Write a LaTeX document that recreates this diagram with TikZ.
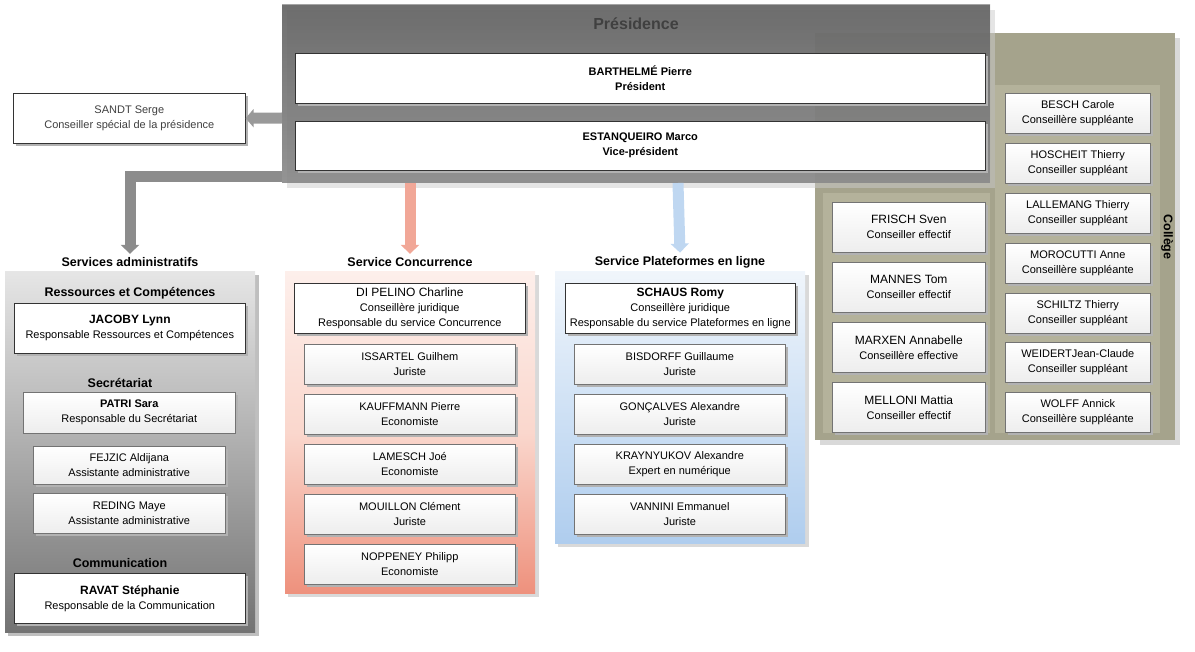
\documentclass[tikz,border=0pt]{standalone}
\usepackage{fontspec}
\setmainfont{Liberation Sans}
\usetikzlibrary{arrows.meta}
\definecolor{salmon}{RGB}{238,145,125}
\definecolor{salmonl}{RGB}{250,215,205}
\definecolor{sky}{RGB}{175,205,238}
\definecolor{skyl}{RGB}{225,236,248}
\definecolor{olivebg}{RGB}{165,163,140}
\definecolor{olivein}{RGB}{180,178,155}
\begin{document}
\begin{tikzpicture}[x=1pt,y=-1pt,
 box/.style={draw=black!80,line width=0.6pt,fill=white,align=center,font=\fontsize{11}{15}\selectfont,inner sep=0pt},
 sbox/.style={box,draw=black!55,top color=white,bottom color=black!7},
 head/.style={font=\bfseries\fontsize{12.5}{14}\selectfont},
 conn/.style={line width=11pt,-{Triangle[width=18pt,length=9pt]}}]
\useasboundingbox (0,0) rectangle (1195,652);
% collège container
\fill[black!15] (820,38) rectangle (1180,445);
\fill[olivebg] (815,33) rectangle (1175,440);
\fill[olivein] (995,85) rectangle (1160,433);
\fill[olivein] (823,193) rectangle (990,433);
% présidence container
\fill[black!20,opacity=0.5] (287,10) rectangle (995,188);
\fill[top color=black!50,bottom color=black!30,opacity=0.7] (282,5) rectangle (990,183);
\node[head,font=\bfseries\fontsize{16}{18}\selectfont,text=black!75] (pt) at (636,24) {Présidence};
\node[head,rotate=-90] (col) at (1167,237) {Collège};
\newcommand{\pbox}[6]{\fill[black!30] ({#2+3},{#3+3}) rectangle ({#4+3},{#5+3});
 \node[box,minimum width={(#4)-(#2)},minimum height={(#5)-(#3)},anchor=north west] (#1) at (#2,#3) {#6};}
\newcommand{\qbox}[6]{\fill[black!30] ({#2+3},{#3+3}) rectangle ({#4+3},{#5+3});
 \node[sbox,minimum width={(#4)-(#2)},minimum height={(#5)-(#3)},anchor=north west] (#1) at (#2,#3) {#6};}
\pbox{bar}{295}{53}{985}{103}{\textbf{BARTHELMÉ Pierre}\\\textbf{Président}}
\pbox{est}{295}{121}{985}{170}{\textbf{ESTANQUEIRO Marco}\\\textbf{Vice-président}}
\pbox{san}{13}{93}{245}{143}{\textcolor{black!75}{SANDT Serge}\\\textcolor{black!75}{Conseiller spécial de la présidence}}
\coordinate (pl) at (282,118);
\draw[line width=11pt,-{Triangle[width=18pt,length=8pt]},black!40] (pl) -- (san.east);
% collège
\foreach \n/\t/\a/\b in {c1/113/BESCH Carole/Conseillère suppléante,c2/163/HOSCHEIT Thierry/Conseiller suppléant,c3/213/LALLEMANG Thierry/Conseiller suppléant,c4/263/MOROCUTTI Anne/Conseillère suppléante,c5/313/SCHILTZ Thierry/Conseiller suppléant,c6/362/WEIDERTJean-Claude/Conseiller suppléant,c7/412/WOLFF Annick/Conseillère suppléante}{
 \qbox{\n}{1005}{\t-20}{1150}{\t+20}{\a\\\b}}
\foreach \n/\t/\a/\b in {e1/227/FRISCH Sven/Conseiller effectif,e2/287/MANNES Tom/Conseiller effectif,e3/347/MARXEN Annabelle/Conseillère effective,e4/407/MELLONI Mattia/Conseiller effectif}{
 \qbox{\n}{832}{\t-25}{985}{\t+25}{\fontsize{12}{15}\selectfont\a\\\b}}
% service containers
\fill[black!25] (8,275) rectangle (259,636);
\fill[top color=black!10,bottom color=black!55] (5,272) rectangle (255,632);
\fill[black!15] (288,275) rectangle (539,597);
\fill[top color=salmonl!40,bottom color=salmon,middle color=salmonl] (285,272) rectangle (535,593);
\fill[black!15] (558,275) rectangle (809,547);
\fill[top color=skyl!50,bottom color=sky] (555,272) rectangle (805,543);
\node[head] (ha) at (130,262) {Services administratifs};
\node[head] (hc) at (410,262) {Service Concurrence};
\node[head] (hp) at (680,262) {Service Plateformes en ligne};
\coordinate (pb) at (282,177);
\coordinate (pr) at (410,183);
\coordinate (pp) at (678,183);
\draw[conn,black!45] (pb) -| (ha.north);
\draw[conn,salmon!80] (pr) -- (hc.north);
\draw[conn,sky!80] (pp) -- (hp.north);
% admin
\node[head] (r1) at (130,293) {Ressources et Compétences};
\pbox{jac}{14}{303}{245}{353}{{\bfseries\fontsize{12}{15}\selectfont JACOBY Lynn}\\Responsable Ressources et Compétences}
\node[head] (r2) at (120,383) {Secrétariat};
\qbox{pat}{23}{392}{235}{433}{\textbf{PATRI Sara}\\Responsable du Secrétariat}
\qbox{fej}{33}{446}{225}{484}{FEJZIC Aldijana\\Assistante administrative}
\qbox{red}{33}{493}{225}{533}{REDING Maye\\Assistante administrative}
\node[head] (r3) at (120,563) {Communication};
\pbox{rav}{14}{573}{245}{623}{{\bfseries\fontsize{12}{15}\selectfont RAVAT Stéphanie}\\Responsable de la Communication}
% concurrence
\pbox{dip}{294}{283}{525}{333}{{\fontsize{12}{14}\selectfont DI PELINO Charline}\\Conseillère juridique\\Responsable du service Concurrence}
\foreach \n/\t/\a/\b in {k1/344/ISSARTEL Guilhem/Juriste,k2/394/KAUFFMANN Pierre/Economiste,k3/444/LAMESCH Joé/Economiste,k4/494/MOUILLON Clément/Juriste,k5/544/NOPPENEY Philipp/Economiste}{
 \qbox{\n}{304}{\t}{515}{\t+40}{\a\\\b}}
% plateformes
\pbox{sch}{565}{283}{795}{333}{{\fontsize{12}{14}\selectfont\bfseries SCHAUS Romy}\\Conseillère juridique\\Responsable du service Plateformes en ligne}
\foreach \n/\t/\a/\b in {p1/344/BISDORFF Guillaume/Juriste,p2/394/GONÇALVES Alexandre/Juriste,p3/444/KRAYNYUKOV Alexandre/Expert en numérique,p4/494/VANNINI Emmanuel/Juriste}{
 \qbox{\n}{574}{\t}{785}{\t+40}{\a\\\b}}
\end{tikzpicture}
\end{document}
